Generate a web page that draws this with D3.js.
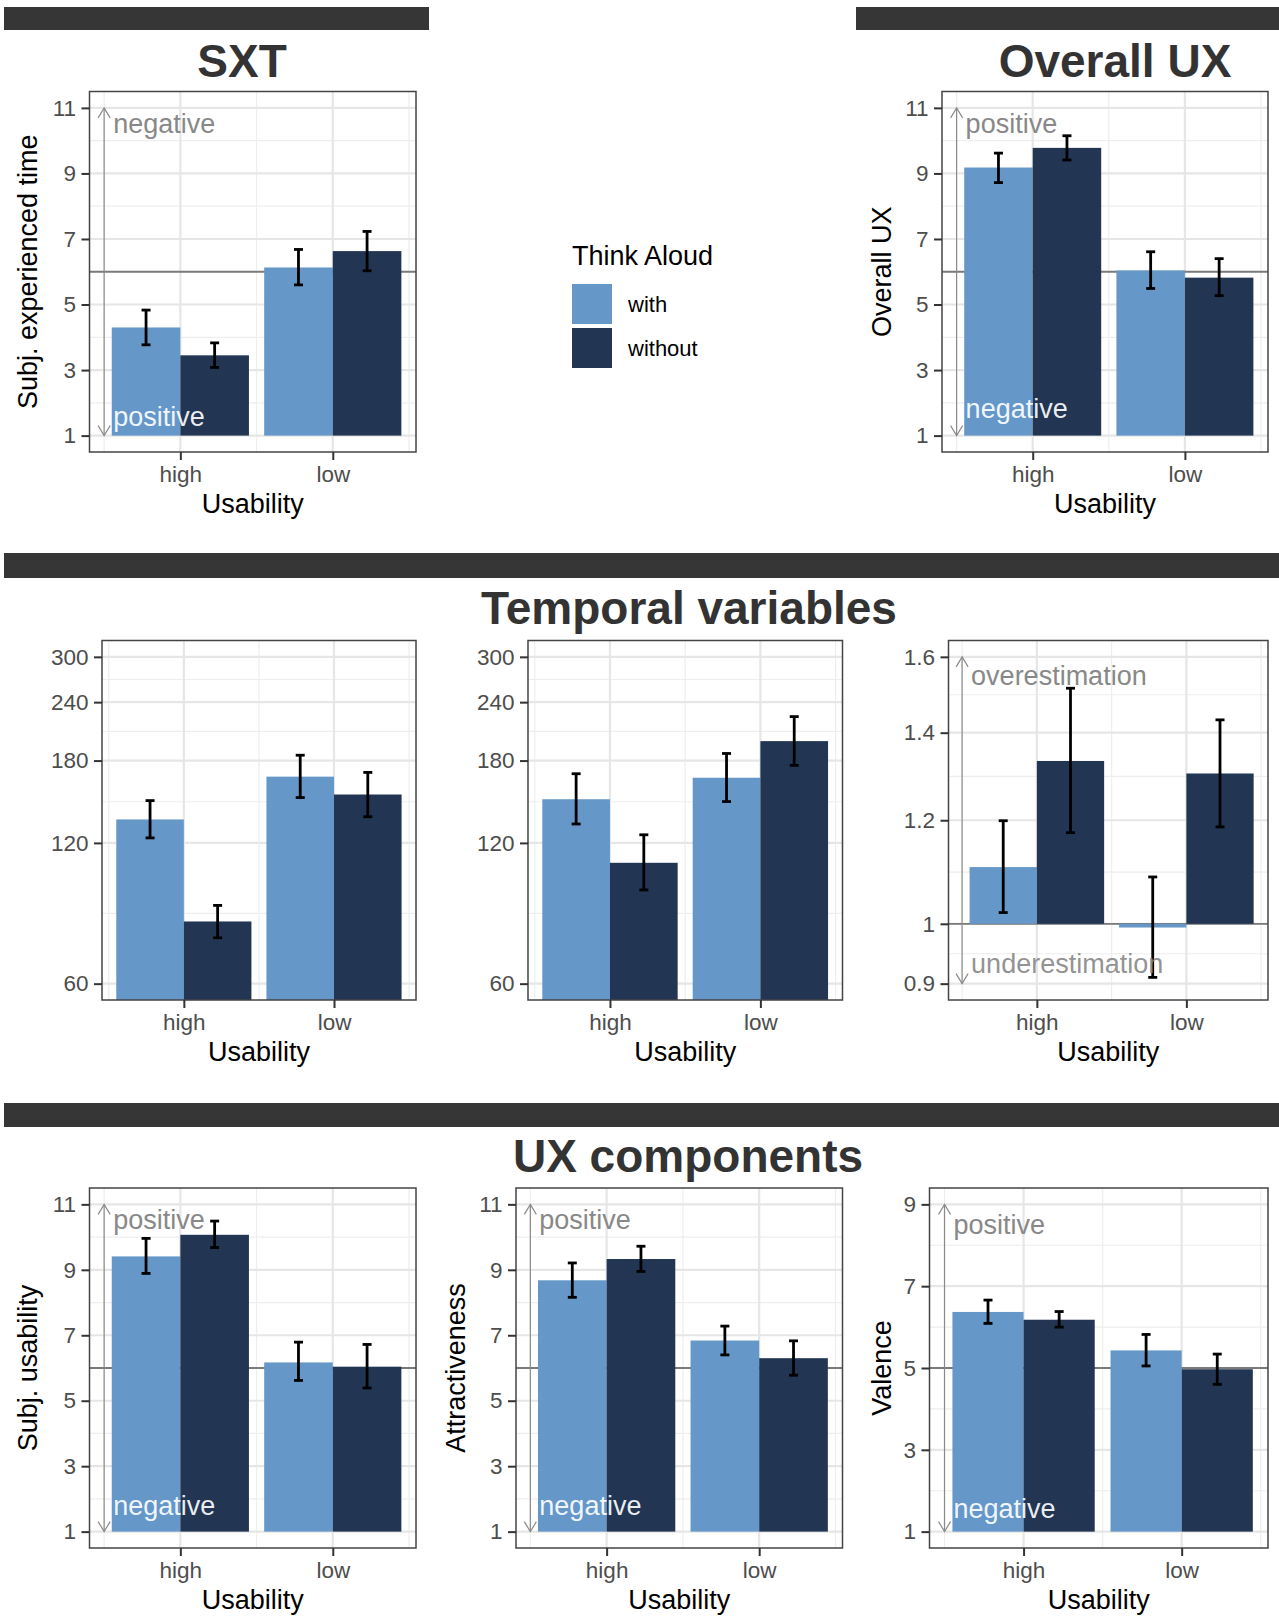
<!DOCTYPE html>
<html>
<head>
<meta charset="utf-8">
<script src="https://cdn.jsdelivr.net/npm/d3@7"></script>
<style>
  body { margin: 0; background: #fff; }
  svg { display: block; font-family: "Liberation Sans", Arial, Helvetica, sans-serif; }
</style>
</head>
<body>
<div id="chart"></div>
<script>
// ---- data (rows: Think Aloud with / without, columns: usability high / low)
var usability = ["high", "low"];
var thinkAloud = ["with", "without"];

var sxtMean  = [[4.30, 6.13], [3.45, 6.63]];
var sxtLower = [[3.77, 5.60], [3.08, 6.03]];
var sxtUpper = [[4.83, 6.68], [3.83, 7.23]];

var uxMean  = [[9.18, 6.04], [9.78, 5.82]];
var uxLower = [[8.72, 5.49], [9.41, 5.27]];
var uxUpper = [[9.62, 6.61], [10.15, 6.40]];

var durMean  = [[134.7, 166.3], [81.5, 152.3]];
var durLower = [[123.0, 150.0], [75.2, 136.5]];
var durUpper = [[147.8, 184.8], [88.2, 169.8]];

var estMean  = [[148.8, 165.4], [108.8, 198.1]];
var estLower = [[131.7, 147.1], [95.2, 175.8]];
var estUpper = [[168.7, 186.4], [124.9, 223.5]];

var ratioMean  = [[1.105, 0.9935], [1.332, 1.303]];
var ratioLower = [[1.020, 0.910], [1.174, 1.186]];
var ratioUpper = [[1.199, 1.086], [1.514, 1.432]];

var subjUsMean  = [[9.41, 6.17], [10.07, 6.04]];
var subjUsLower = [[8.89, 5.62], [9.68, 5.39]];
var subjUsUpper = [[9.96, 6.79], [10.49, 6.72]];

var attrMean  = [[8.68, 6.84], [9.33, 6.30]];
var attrLower = [[8.16, 6.40], [8.95, 5.78]];
var attrUpper = [[9.21, 7.28], [9.72, 6.83]];

var valMean  = [[6.37, 5.43], [6.18, 4.97]];
var valLower = [[6.09, 5.05], [6.00, 4.60]];
var valUpper = [[6.66, 5.82], [6.38, 5.34]];

var scaleTicks   = [1, 3, 5, 7, 9, 11];
var valenceTicks = [1, 3, 5, 7, 9];
var timeTicks    = [60, 120, 180, 240, 300];
var ratioTicks   = [0.9, 1, 1.2, 1.4, 1.6];

var sectionTitles = ["SXT", "Overall UX", "Temporal variables", "UX components"];

// ---- look
var fillColor = d3.scaleOrdinal().domain(thinkAloud).range(["#6598c8", "#223654"]);
var W = 1279, H = 1616;

var svg = d3.select("#chart").append("svg")
  .attr("width", W)
  .attr("height", H);

// dark header strips
var strips = [[4, 7, 429, 30], [856, 7, 1279, 30], [4, 553, 1279, 578], [4, 1103, 1279, 1127]];
svg.selectAll("rect.strip").data(strips).enter()
  .append("rect")
    .attr("class", "strip")
    .attr("x", function(d) { return d[0]; })
    .attr("y", function(d) { return d[1]; })
    .attr("width", function(d) { return d[2] - d[0]; })
    .attr("height", function(d) { return d[3] - d[1]; })
    .attr("fill", "#363636");

var titlePos = [[242, 77], [1115, 77], [689, 624], [688, 1172]];
svg.selectAll("text.section").data(sectionTitles).enter()
  .append("text")
    .attr("class", "section")
    .attr("x", function(d, i) { return titlePos[i][0]; })
    .attr("y", function(d, i) { return titlePos[i][1]; })
    .attr("text-anchor", "middle")
    .attr("font-size", 46)
    .attr("font-weight", "bold")
    .attr("fill", "#333")
    .text(function(d) { return d; });

// panel layout: box = [left, top, right, bottom]
var panels = [
  {mean: sxtMean, lower: sxtLower, upper: sxtUpper, ticks: scaleTicks, box: [89.5, 91.5, 416, 452],
   xLo: 0.404, ref: 6, base: 1, yTitle: "Subj. experienced time", yTitleX: 37,
   arrow: ["negative", "positive"], off: [25, 10], botColor: "#fff"},
  {mean: uxMean, lower: uxLower, upper: uxUpper, ticks: scaleTicks, box: [942, 91.5, 1268, 452],
   xLo: 0.404, ref: 6, base: 1, yTitle: "Overall UX", yTitleX: 891,
   arrow: ["positive", "negative"], off: [25, 17.5], botColor: "#fff"},
  {mean: durMean, lower: durLower, upper: durUpper, ticks: timeTicks, log: true, box: [102, 640.5, 416, 1000],
   xLo: 0.455},
  {mean: estMean, lower: estLower, upper: estUpper, ticks: timeTicks, log: true, box: [528, 640.5, 842.5, 1000],
   xLo: 0.455},
  {mean: ratioMean, lower: ratioLower, upper: ratioUpper, ticks: ratioTicks, log: true, box: [948.5, 640.5, 1268, 1000],
   xLo: 0.409, ref: 1, base: 1,
   arrow: ["overestimation", "underestimation"], off: [28, 10.5], botColor: "#888"},
  {mean: subjUsMean, lower: subjUsLower, upper: subjUsUpper, ticks: scaleTicks, box: [89.5, 1188, 416, 1548],
   xLo: 0.404, ref: 6, base: 1, yTitle: "Subj. usability", yTitleX: 37,
   arrow: ["positive", "negative"], off: [25, 17], botColor: "#fff"},
  {mean: attrMean, lower: attrLower, upper: attrUpper, ticks: scaleTicks, box: [516, 1188, 842.5, 1548],
   xLo: 0.406, ref: 6, base: 1, yTitle: "Attractiveness", yTitleX: 465,
   arrow: ["positive", "negative"], off: [25, 17], botColor: "#fff"},
  {mean: valMean, lower: valLower, upper: valUpper, ticks: valenceTicks, box: [929.5, 1188, 1268, 1548],
   xLo: 0.405, ref: 5, base: 1, yTitle: "Valence", yTitleX: 891,
   arrow: ["positive", "negative"], off: [30, 13.5], botColor: "#fff"}
];

panels.forEach(drawPanel);

function drawPanel(p) {
  var L = p.box[0], T = p.box[1], R = p.box[2], B = p.box[3];
  var t0 = p.ticks[0], t1 = p.ticks[p.ticks.length - 1];

  var x = d3.scaleLinear().domain([p.xLo, 2.546]).range([L, R]);
  var y, minor;
  if (p.log) {
    var pad = 0.05 * (Math.log(t1) - Math.log(t0));
    y = d3.scaleLog().domain([t0 * Math.exp(-pad), t1 * Math.exp(pad)]).range([B, T]);
    minor = d3.pairs(p.ticks).map(function(d) { return Math.sqrt(d[0] * d[1]); });
  } else {
    var padL = 0.05 * (t1 - t0);
    y = d3.scaleLinear().domain([t0 - padL, t1 + padL]).range([B, T]);
    minor = d3.pairs(p.ticks).map(function(d) { return (d[0] + d[1]) / 2; });
  }

  var g = svg.append("g");

  // grid: minor then major
  var grid = g.append("g").attr("class", "grid");
  grid.selectAll("line.ymin").data(minor).enter().append("line")
    .attr("x1", L).attr("x2", R)
    .attr("y1", y).attr("y2", y)
    .attr("stroke", "#eeeeee").attr("stroke-width", 1.2);
  grid.selectAll("line.xmin").data([0.5, 1.5, 2.5]).enter().append("line")
    .attr("x1", x).attr("x2", x)
    .attr("y1", T).attr("y2", B)
    .attr("stroke", "#eeeeee").attr("stroke-width", 1.2);
  grid.selectAll("line.ymaj").data(p.ticks).enter().append("line")
    .attr("x1", L).attr("x2", R)
    .attr("y1", y).attr("y2", y)
    .attr("stroke", "#e6e6e6").attr("stroke-width", 2.2);
  grid.selectAll("line.xmaj").data([1, 2]).enter().append("line")
    .attr("x1", x).attr("x2", x)
    .attr("y1", T).attr("y2", B)
    .attr("stroke", "#e6e6e6").attr("stroke-width", 2.2);

  // reference line
  if (p.ref !== undefined) {
    g.append("line")
      .attr("x1", L).attr("x2", R)
      .attr("y1", y(p.ref)).attr("y2", y(p.ref))
      .attr("stroke", "#7a7a7a").attr("stroke-width", 1.8);
  }

  // bars, one group per Think Aloud level
  var rows = [];
  thinkAloud.forEach(function(ta, s) {
    usability.forEach(function(u, i) {
      rows.push({ta: ta, s: s, i: i, v: p.mean[s][i], lo: p.lower[s][i], hi: p.upper[s][i]});
    });
  });
  var baseY = p.base === undefined ? B : y(p.base);

  g.selectAll("rect.bar").data(rows).enter().append("rect")
    .attr("class", "bar")
    .attr("x", function(d) { return x(d.i + 1 - 0.45 + d.s * 0.45); })
    .attr("width", function(d) { return x(d.i + 1 + d.s * 0.45) - x(d.i + 1 - 0.45 + d.s * 0.45); })
    .attr("y", function(d) { return Math.min(y(d.v), baseY); })
    .attr("height", function(d) { return Math.abs(baseY - y(d.v)); })
    .attr("fill", function(d) { return fillColor(d.ta); });

  // error bars
  var eb = g.selectAll("g.err").data(rows).enter().append("g")
    .attr("class", "err")
    .attr("transform", function(d) { return "translate(" + x(d.i + 1 - 0.225 + d.s * 0.45) + ",0)"; })
    .attr("stroke", "#000").attr("stroke-width", 2.8);
  eb.append("line").attr("y1", function(d) { return y(d.lo); }).attr("y2", function(d) { return y(d.hi); });
  eb.append("line").attr("x1", -4.5).attr("x2", 4.5).attr("y1", function(d) { return y(d.lo); }).attr("y2", function(d) { return y(d.lo); });
  eb.append("line").attr("x1", -4.5).attr("x2", 4.5).attr("y1", function(d) { return y(d.hi); }).attr("y2", function(d) { return y(d.hi); });

  // direction arrow with labels
  if (p.arrow) {
    var ax = x(0.5), yTop = y(t1), yBot = y(t0);
    var a = g.append("g").attr("fill", "none").attr("stroke", "#8a8a8a").attr("stroke-width", 1.2);
    a.append("line").attr("x1", ax).attr("x2", ax).attr("y1", yTop).attr("y2", yBot);
    a.append("path").attr("d", "M" + (ax - 6) + "," + (yTop + 10) + "L" + ax + "," + yTop + "L" + (ax + 6) + "," + (yTop + 10));
    a.append("path").attr("d", "M" + (ax - 6) + "," + (yBot - 10) + "L" + ax + "," + yBot + "L" + (ax + 6) + "," + (yBot - 10));
    g.append("text")
      .attr("x", ax + 9).attr("y", yTop + p.off[0])
      .attr("font-size", 27).attr("fill", "#888")
      .text(p.arrow[0]);
    g.append("text")
      .attr("x", ax + 9).attr("y", yBot - p.off[1])
      .attr("font-size", 27).attr("fill", p.botColor).attr("fill-opacity", 0.92)
      .text(p.arrow[1]);
  }

  // panel border
  g.append("rect")
    .attr("x", L).attr("y", T)
    .attr("width", R - L).attr("height", B - T)
    .attr("fill", "none").attr("stroke", "#444").attr("stroke-width", 1.5);

  // axes
  var yAxis = g.append("g")
    .attr("transform", "translate(" + L + ",0)")
    .call(d3.axisLeft(y).tickValues(p.ticks).tickFormat(function(d) { return String(d); })
      .tickSize(8).tickPadding(5.5));
  var xAxis = g.append("g")
    .attr("transform", "translate(0," + B + ")")
    .call(d3.axisBottom(x).tickValues([1, 2]).tickFormat(function(d) { return usability[d - 1]; })
      .tickSize(8));
  [yAxis, xAxis].forEach(function(ax) {
    ax.select(".domain").remove();
    ax.attr("font-family", null);
    ax.selectAll(".tick line").attr("stroke", "#333").attr("stroke-width", 2);
    ax.selectAll(".tick text").attr("fill", "#4d4d4d").attr("font-size", 22.5);
  });
  xAxis.selectAll(".tick text").attr("y", 30).attr("dy", null);

  // axis titles
  g.append("text")
    .attr("x", (L + R) / 2).attr("y", B + 61)
    .attr("text-anchor", "middle")
    .attr("font-size", 27).attr("fill", "#000")
    .text("Usability");
  if (p.yTitle) {
    g.append("text")
      .attr("transform", "translate(" + p.yTitleX + "," + (T + B) / 2 + ") rotate(-90)")
      .attr("text-anchor", "middle")
      .attr("font-size", 27).attr("fill", "#000")
      .text(p.yTitle);
  }
}

// legend
var legend = svg.append("g").attr("transform", "translate(572,0)");
legend.append("text")
  .attr("x", 0).attr("y", 265)
  .attr("font-size", 27).attr("fill", "#000")
  .text("Think Aloud");
var items = legend.selectAll("g.item").data(thinkAloud).enter().append("g")
  .attr("class", "item")
  .attr("transform", function(d, i) { return "translate(0," + (284 + i * 44) + ")"; });
items.append("rect")
  .attr("width", 40).attr("height", 40)
  .attr("fill", function(d) { return fillColor(d); });
items.append("text")
  .attr("x", 56).attr("y", 28)
  .attr("font-size", 22).attr("fill", "#000")
  .text(function(d) { return d; });
</script>
</body>
</html>
